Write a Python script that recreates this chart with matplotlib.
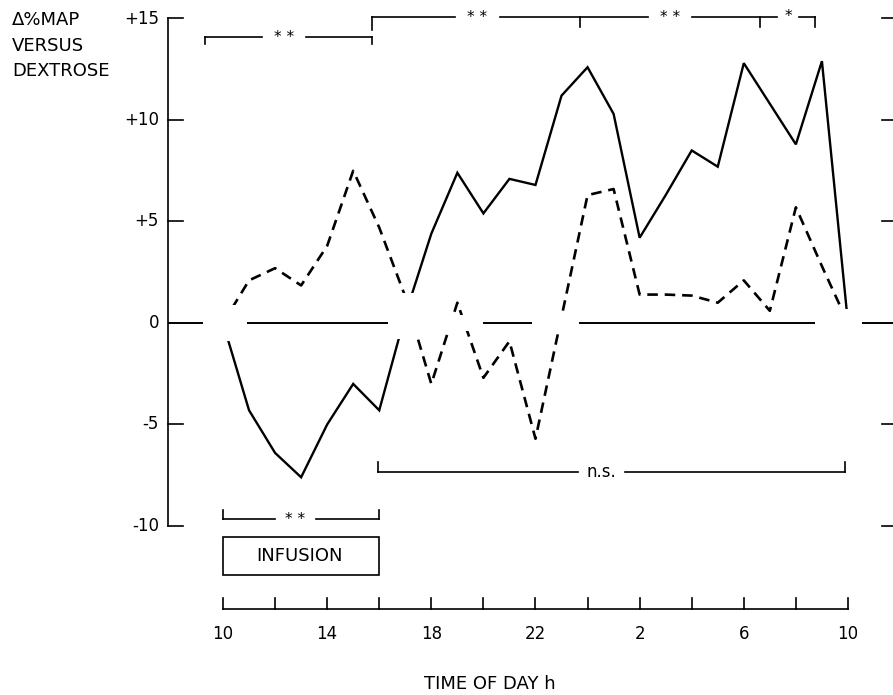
import matplotlib
matplotlib.use("Agg")
import matplotlib.pyplot as plt
from matplotlib.patches import Rectangle

# ---------------- data ----------------
hours = list(range(10, 35))  # 10 h on day 1 to 10 h on day 2 (34)
solid_values = [0.0, -4.3, -6.4, -7.6, -5.0, -3.0, -4.3, 0.4, 4.4, 7.4,
                5.4, 7.1, 6.8, 11.2, 12.6, 10.3, 4.2, 6.3, 8.5, 7.7,
                12.8, 10.8, 8.8, 12.9, 0.0]
dashed_values = [0.0, 2.1, 2.7, 1.85, 3.8, 7.5, 4.7, 1.3, -3.0, 1.0,
                 -2.7, -0.9, -5.7, 0.3, 6.3, 6.6, 1.4, 1.4, 1.35, 1.0,
                 2.1, 0.6, 5.7, 2.8, 0.0]
y_ticks = [15, 10, 5, 0, -5, -10]
y_tick_labels = ["+15", "+10", "+5", "0", "-5", "-10"]
x_ticks = [10, 14, 18, 22, 26, 30, 34]
x_tick_labels = ["10", "14", "18", "22", "2", "6", "10"]
x_minor = list(range(10, 35, 2))

# ---------------- layout (pixel geometry) ----------------
W, H = 893, 695
X10, PXH = 223.0, 26.04      # px of hour 10, px per hour
Y0, PXU = 323.0, 20.3        # px of value 0, px per unit


def hx(px):
    return 10 + (px - X10) / PXH


def vy(py):
    return (Y0 - py) / PXU


fig = plt.figure(figsize=(W / 100, H / 100), dpi=100)
ax = fig.add_axes([0, 0, 1, 1])
ax.set_xlim(hx(0), hx(W))
ax.set_ylim(vy(H), vy(0))
ax.axis("off")

FONT = "DejaVu Sans"
K = "black"
LW_AX = 1.2

# data lines
ax.plot(hours, solid_values, color=K, lw=1.7, solid_joinstyle="miter", zorder=2)
ax.plot(hours, dashed_values, color=K, lw=1.9, dashes=(4.0, 2.6), zorder=2)

# white masks around the baseline (lines are interrupted where they meet it)
masks = [(hx(195), hx(860), -0.4, 0.4),
         (hx(200), hx(240), -0.9, 0.9),
         (hx(395), hx(420), -0.8, 1.5),
         (hx(830), hx(860), -0.7, 0.7)]
for a, b, lo, hi in masks:
    ax.fill_between([a, b], lo, hi, color="white", zorder=3, lw=0)

# zero line segments
zero_segments = [(hx(168), hx(203)), (hx(247), hx(388)), (hx(483), hx(532)),
                 (hx(579), hx(815)), (hx(862), hx(893))]
for a, b in zero_segments:
    ax.plot([a, b], [0, 0], color=K, lw=1.4, zorder=4, solid_capstyle="butt")

# left vertical axis
xa = hx(168)
ax.plot([xa, xa], [15, -10], color=K, lw=LW_AX, zorder=4)
for v, lab in zip(y_ticks, y_tick_labels):
    if v != 0:
        ax.plot([xa, hx(183)], [v, v], color=K, lw=LW_AX, zorder=4)
        ax.plot([hx(882), hx(893)], [v, v], color=K, lw=LW_AX, zorder=4)
    ax.text(hx(159), v, lab, ha="right", va="center", fontsize=12,
            family=FONT, zorder=5)

# y-axis title
ax.text(hx(12), vy(20), "Δ%MAP", ha="left", va="center", fontsize=13, family=FONT)
ax.text(hx(12), vy(46), "VERSUS", ha="left", va="center", fontsize=13, family=FONT)
ax.text(hx(12), vy(71), "DEXTROSE", ha="left", va="center", fontsize=13, family=FONT)


def hline(x1, x2, y):
    ax.plot([hx(x1), hx(x2)], [vy(y), vy(y)], color=K, lw=LW_AX)


def vline(x, y1, y2):
    ax.plot([hx(x), hx(x)], [vy(y1), vy(y2)], color=K, lw=LW_AX)


def label(x, y, s, fs=11):
    ax.text(hx(x), vy(y), s, ha="center", va="center", fontsize=fs, family=FONT)


# top-left bracket (**)
hline(205, 262, 37); hline(306, 372, 37)
vline(205, 37, 44); vline(372, 37, 44)
label(284, 37, "* *")

# long upper bracket: ** | ** | *
hline(372, 455, 17); hline(500, 648, 17); hline(692, 777, 17); hline(799, 815, 17)
vline(372, 17, 30); vline(580, 17, 27); vline(760, 17, 27); vline(815, 17, 27)
label(477, 17, "* *")
label(670, 17, "* *")
label(788, 17, "*")

# bottom-left bracket (**)
hline(223, 275, 519); hline(316, 379, 519)
vline(223, 519, 510); vline(379, 519, 510)
label(295, 519, "* *")

# n.s. bracket
hline(378, 578, 472); hline(625, 845, 472)
vline(378, 472, 462); vline(845, 472, 462)
label(601, 472, "n.s.", fs=12)

# infusion box
ax.add_patch(Rectangle((hx(223), vy(575)), hx(379) - hx(223), vy(537) - vy(575),
                       fill=False, ec=K, lw=LW_AX))
label(300, 556, "INFUSION", fs=13)

# time axis
ya = vy(609)
ax.plot([hx(X10), hx(848)], [ya, ya], color=K, lw=LW_AX)
for t in x_minor:
    ax.plot([t, t], [ya, vy(598)], color=K, lw=LW_AX)
for t, lab in zip(x_ticks, x_tick_labels):
    ax.text(t, vy(634), lab, ha="center", va="center", fontsize=12, family=FONT)
ax.text(hx(490), vy(684), "TIME OF DAY h", ha="center", va="center",
        fontsize=13, family=FONT)

fig.savefig("out.png", dpi=100)
